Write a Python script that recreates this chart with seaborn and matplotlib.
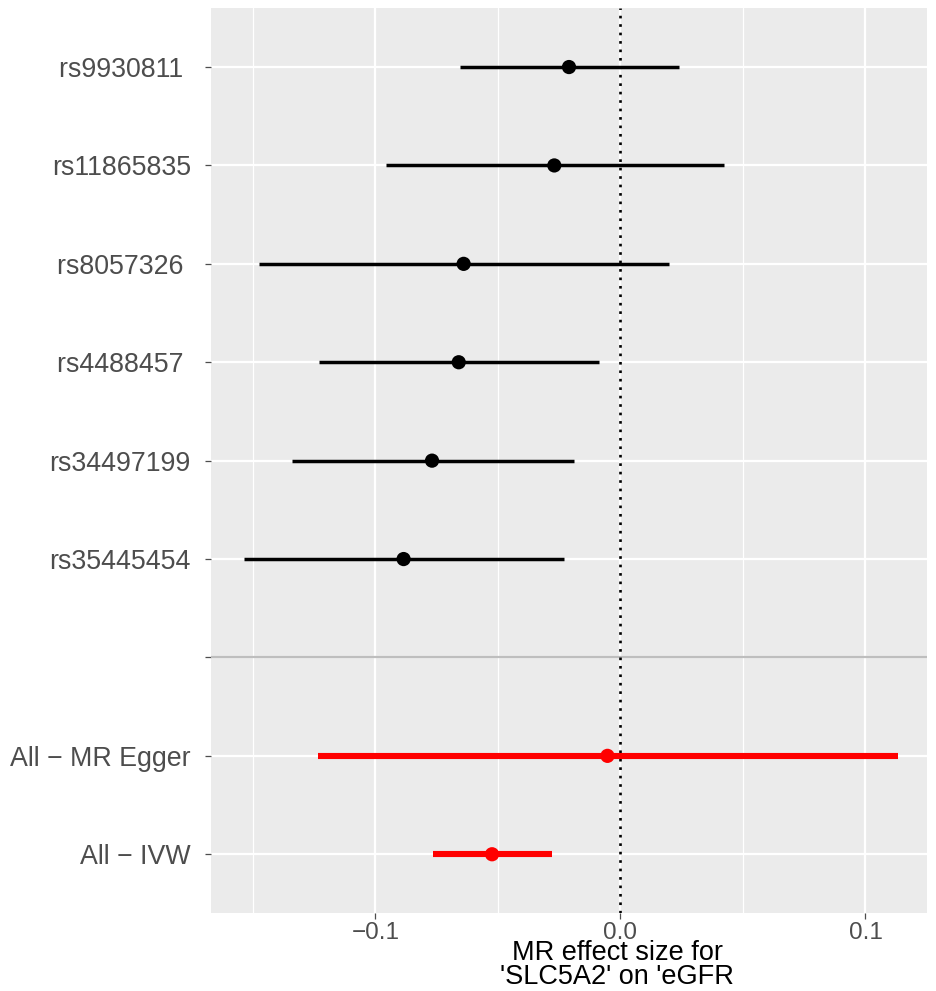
import numpy as np
import pandas as pd
import seaborn as sns
import matplotlib.pyplot as plt

# SNP-level and summary MR estimates
labels = ["rs9930811 ", "rs11865835", "rs8057326 ", "rs4488457 ", "rs34497199", "rs35445454",
          "", "All \u2212 MR Egger", "All \u2212 IVW"]
b = [-0.0210, -0.0270, -0.0640, -0.0660, -0.0769, -0.0885, np.nan, -0.0053, -0.0524]
lo = [-0.0654, -0.0957, -0.1477, -0.1232, -0.1342, -0.1537, np.nan, -0.1235, -0.0765]
hi = [0.0237, 0.0422, 0.0197, -0.0087, -0.0191, -0.0232, np.nan, 0.1132, -0.0279]
kind = ["snp"] * 6 + ["sep"] + ["all"] * 2

df = pd.DataFrame({"label": labels, "b": b, "lo": lo, "hi": hi, "kind": kind})
df["pos"] = np.arange(len(df))

sns.set_style("white")
plt.rcParams['font.family'] = ['Liberation Sans', 'DejaVu Sans']

fig = plt.figure(figsize=(9.36, 9.91), dpi=100)
ax = fig.add_axes([211 / 936, 1 - 913.3 / 991, 716 / 936, 905.3 / 991])
ax.set_facecolor("#EBEBEB")
for s in ax.spines.values():
    s.set_visible(False)

ax.set_xlim(-0.1671, 0.1251)
ax.set_ylim(8.6, -0.6)

# grid
for x in [-0.15, -0.05, 0.05]:
    ax.axvline(x, color="white", lw=0.9, zorder=0)
for x in [-0.1, 0.0, 0.1]:
    ax.axvline(x, color="white", lw=1.6, zorder=0)
for p in df["pos"]:
    ax.axhline(p, color="white", lw=1.6, zorder=0)

# separator row
sep = df[df["kind"] == "sep"]["pos"].iloc[0]
ax.axhline(sep, color="#BEBEBE", lw=1.6, zorder=1)

ax.axvline(0, color="black", lw=1.9, ls=(0, (1.0, 2.2)), zorder=2)

snp = df[df["kind"] == "snp"]
allr = df[df["kind"] == "all"]
ax.hlines(snp["pos"], snp["lo"], snp["hi"], color="black", lw=2.5, zorder=3)
ax.hlines(allr["pos"], allr["lo"], allr["hi"], color="#FF0000", lw=4.4, zorder=3)
sns.scatterplot(data=df.dropna(), x="b", y="pos", hue="kind",
                palette={"snp": "black", "all": "#FF0000"}, s=105,
                edgecolor="none", legend=False, ax=ax, zorder=4)

ax.set_yticks(df["pos"])
ax.set_yticklabels(df["label"])
ax.set_xticks([-0.1, 0.0, 0.1])
ax.set_xticklabels(["\u22120.1", "0.0", "0.1"])
ax.tick_params(axis="y", labelsize=19.3, labelcolor="#4D4D4D", color="#4D4D4D",
               length=4.5, width=0.9, pad=10, left=True)
ax.tick_params(axis="x", labelsize=17.5, labelcolor="#4D4D4D", color="#4D4D4D",
               length=4.5, width=0.9, pad=2, bottom=True)
ax.set_xlabel("")
ax.set_ylabel("")

fig.text(617 / 936, 1 - 965 / 991, "MR effect size for\n'SLC5A2' on 'eGFR",
         ha="center", va="center", fontsize=19.5, linespacing=0.94, color="black")

fig.savefig("out.png", dpi=100)
